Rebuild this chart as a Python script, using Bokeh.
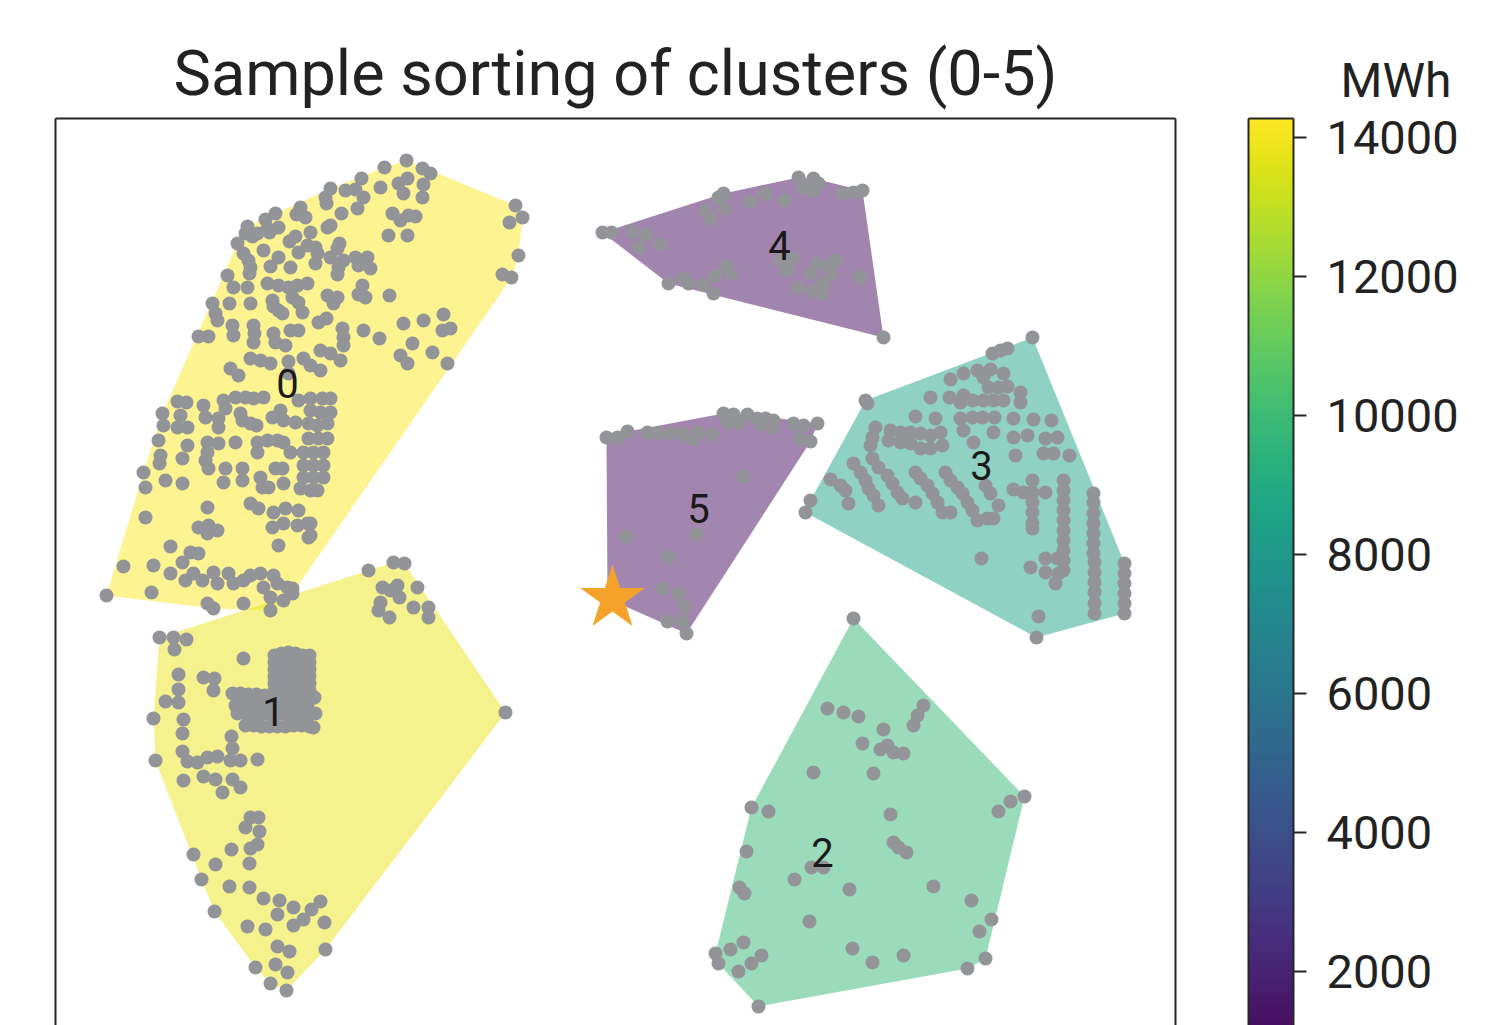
import numpy as np
from bokeh.plotting import figure
from bokeh.layouts import row
from bokeh.models import (Range1d, LinearAxis, LinearColorMapper, FixedTicker,
                          ColumnDataSource)
from bokeh.palettes import Viridis256
from bokeh.transform import linear_cmap
from bokeh.embed import file_html
from bokeh.resources import INLINE
from bokeh.core.properties import value

# ---------------- data (map coordinates, y grows downward) ----------------
cluster_ids = [0, 1, 2, 3, 4, 5]
cluster_mwh = [14270, 13870, 9760, 8560, 1100, 1200]
label_x = [287, 273, 822, 981, 779, 698]
label_y = [383, 711, 852, 465, 245, 508]
cbar_ticks = [2000, 4000, 6000, 8000, 10000, 12000, 14000]
mwh_low, mwh_high = 680, 14270
star_x = [612]
star_y = [598]

c0_pts = [
    (406,160),(384,167),(422,168),(430,173),(361,178),(407,178),(398,183),(423,184),(380,187),
    (330,188),(345,190),(355,189),(403,193),(363,197),(325,197),(326,203),(422,197),(357,208),
    (300,207),(296,214),(305,217),(275,213),(341,213),(392,213),(400,220),(408,215),(415,216),
    (265,219),(267,228),(247,226),(245,233),(278,227),(269,232),(257,233),(252,236),(330,225),
    (327,227),(310,232),(388,235),(407,235),(295,236),(289,241),(237,243),(339,243),(337,248),
    (307,245),(315,247),(317,253),(298,252),(263,250),(243,253),(248,260),(250,267),(249,273),
    (278,257),(270,266),(330,257),(343,260),(355,257),(367,257),(358,265),(370,268),(338,267),
    (337,274),(315,263),(290,267),(227,275),(267,283),(278,285),(288,287),(297,285),(307,283),
    (292,297),(233,287),(247,287),(362,285),(365,297),(358,294),(327,295),(337,297),(333,303),
    (389,295),(272,300),(273,306),(278,310),(282,313),(298,302),(302,312),(212,303),(215,313),
    (217,320),(229,303),(250,303),(232,325),(233,335),(253,325),(254,333),(253,342),(318,322),
    (326,318),(290,330),(298,330),(342,328),(343,337),(343,345),(363,330),(379,338),(403,323),
    (423,320),(443,314),(442,330),(450,328),(198,336),(208,336),(273,333),(275,342),(285,345),
    (412,343),(432,352),(400,355),(407,363),(447,363),(250,358),(260,360),(270,363),(288,361),
    (303,358),(310,365),(320,370),(320,350),(330,353),(340,360),(230,368),(238,375),(288,373),
    (515,205),(522,217),(509,222),(518,255),(502,274),(511,277),
    (177,401),(186,402),(203,405),(205,417),(223,400),(225,408),(235,397),(245,397),(253,398),
    (263,397),(162,413),(163,425),(180,415),(177,427),(187,427),(218,418),(218,427),(240,413),
    (242,420),(250,423),(256,425),(272,417),(280,410),(283,420),(295,422),(298,400),(310,398),
    (322,398),(330,398),(310,410),(320,412),(330,412),(308,423),(317,425),(327,423),(308,438),
    (318,438),(327,438),(158,440),(160,455),(159,463),(187,445),(182,458),(207,442),(218,443),
    (207,452),(205,460),(208,468),(235,442),(257,442),(257,452),(267,440),(277,440),(283,442),
    (290,452),(303,452),(313,452),(323,452),(303,465),(313,465),(323,465),(303,477),(313,477),
    (323,477),(300,488),(310,490),(317,490),(143,472),(145,487),(165,480),(182,483),(225,468),
    (223,482),(242,468),(242,480),(260,477),(262,487),(268,487),(275,468),(282,468),(283,483),
    (207,507),(250,503),(258,508),(273,512),(285,508),(298,510),(272,527),(283,523),(297,525),
    (310,523),(310,535),(307,523),(308,537),(145,517),(198,527),(208,525),(217,530),(207,533),
    (278,545),(170,546),(190,552),(198,553),(182,562),(123,566),(153,565),(170,573),(185,580),
    (193,573),(202,580),(213,572),(217,583),(228,573),(233,583),(243,580),(250,575),(260,573),
    (263,587),(273,575),(277,583),(287,587),(292,593),(270,597),(283,600),(151,592),(207,603),
    (213,608),(243,603),(270,610),(106,595),(292,588),
]

c1_pts = [
    (368,570),(393,562),(404,563),(382,587),(397,585),(390,590),(417,587),(399,597),(380,602),
    (378,610),(413,607),(428,607),(428,617),(389,617),(159,637),(173,637),(186,639),(174,649),
    (243,658),
    (274,655),(281,653),(288,652),(295,653),(302,655),(309,655),
    (274,662),(281,662),(288,662),(295,662),(302,662),(309,662),
    (274,669),(281,669),(288,669),(295,669),(302,669),(309,669),
    (274,676),(281,676),(288,676),(295,676),(302,676),(309,676),
    (274,683),(281,683),(288,683),(295,683),(302,683),(309,683),
    (274,690),(281,690),(288,690),(295,690),(302,690),(309,690),(314,697),
    (232,693),(240,693),(248,694),(256,694),(264,695),(272,696),(280,696),(288,697),(296,697),
    (304,697),(313,697),(235,705),(243,706),(251,706),(259,707),(267,707),(275,707),(283,707),
    (291,707),(299,707),(307,707),(315,713),(237,713),(245,713),(253,714),(261,714),(269,714),
    (277,714),(285,714),(293,714),(301,714),(309,714),(245,725),(253,725),(261,726),(269,726),
    (277,726),(285,726),(293,725),(301,725),(309,726),(313,727),
    (178,674),(203,677),(214,678),(213,690),(178,689),(178,702),(165,701),(153,718),(183,719),
    (182,733),(231,736),(232,748),(230,760),(240,760),(257,759),(155,760),(182,751),(187,761),
    (197,762),(207,757),(217,756),(183,780),(203,776),(215,779),(222,792),(232,779),(240,787),
    (250,817),(258,817),(245,827),(259,831),(250,848),(257,844),(249,863),(231,849),(193,854),
    (215,864),(201,879),(229,886),(249,887),(263,898),(279,900),(293,907),(277,914),(311,909),
    (320,901),(303,919),(293,925),(324,922),(214,911),(247,926),(265,929),(277,946),(289,951),
    (325,949),(255,967),(275,964),(287,972),(270,983),(286,990),(505,712),
]

c2_pts = [
    (853,618),(827,708),(843,712),(858,716),(923,705),(917,715),(913,725),(883,729),(862,743),
    (880,749),(887,745),(893,752),(903,753),(813,772),(873,773),(751,807),(768,811),(890,814),
    (1024,796),(1010,801),(998,811),(746,851),(893,842),(906,852),(898,847),(811,867),(823,867),
    (794,879),(849,889),(933,886),(739,887),(744,893),(971,900),(991,919),(979,931),(809,921),
    (743,942),(730,949),(715,953),(718,963),(761,955),(751,963),(738,971),(852,948),(872,962),
    (903,955),(985,958),(967,968),(758,1006),
]

c3_pts = [
    (1032,337),(992,353),(1000,350),(1007,348),(865,400),(867,403),(950,379),(963,373),(977,370),
    (990,369),(983,377),(1003,373),(988,387),(998,387),(1007,386),(930,397),(949,397),(963,395),
    (960,402),(972,400),(983,400),(993,400),(1003,400),(1020,392),(1020,402),(915,416),(935,418),
    (960,418),(972,417),(982,417),(994,417),(1013,418),(1033,419),(1051,420),(993,432),(963,430),
    (1013,437),(1027,435),(1045,438),(1057,437),(875,427),(872,437),(870,445),(890,430),(900,432),
    (910,432),(920,433),(930,435),(940,432),(888,440),(900,442),(910,443),(920,448),(930,448),
    (942,445),(1015,455),(1043,453),(1053,453),(1069,455),(973,442),
    (872,458),(878,467),(887,475),(892,483),(897,492),(902,498),
    (853,463),(860,472),(865,480),(868,488),(873,495),(878,505),
    (830,479),(840,485),(845,490),(848,503),
    (915,472),(920,478),(927,485),(932,493),(937,502),(942,512),(950,512),
    (945,472),(950,480),(957,487),(962,493),(967,502),(972,510),(977,520),(987,518),(993,518),
    (998,505),(990,493),(985,485),(915,502),(810,500),(805,512),
    (1013,489),(1023,492),(1032,480),(1032,492),(1045,492),(1032,502),(1032,512),(1032,523),
    (1032,528),
    (1063,480),(1063,490),(1063,500),(1063,510),(1063,520),(1063,530),(1063,540),(1063,550),
    (1063,560),(1063,570),(1045,558),(1057,558),(1045,572),(1055,583),(1058,573),(1030,567),
    (981,558),
    (1093,493),(1093,502),(1093,513),(1093,523),(1093,533),(1093,543),(1093,553),
    (1094,562),(1094,572),(1094,582),(1094,592),(1094,603),(1094,613),
    (1124,563),(1124,573),(1124,583),(1124,593),(1124,603),(1124,613),
    (1038,616),(1036,637),
]

c4_pts = [
    (602,232),(611,232),(632,231),(645,234),(638,247),(660,244),(668,283),(683,278),(688,283),
    (703,284),(713,293),(715,275),(726,266),(731,273),(705,210),(710,218),(718,197),(723,193),
    (724,208),(750,201),(765,193),(784,200),(798,177),(803,188),(813,178),(818,183),(813,190),
    (842,193),(853,192),(862,190),(780,260),(792,258),(787,270),(798,287),(810,273),(817,263),
    (827,267),(835,260),(830,273),(823,283),(813,290),(822,293),(860,277),(883,337),
]

c5_pts = [
    (606,437),(617,437),(627,431),(647,432),(658,433),(670,433),(683,433),(692,439),(698,432),
    (712,434),(723,413),(733,414),(727,422),(738,423),(747,414),(757,418),(765,418),(773,420),
    (772,428),(760,423),(793,423),(803,425),(817,423),(800,438),(810,441),(743,476),(626,536),
    (696,534),(668,557),(662,588),(678,593),(684,606),(667,621),(682,621),(686,633),(607,598),
]

cluster_pts = [c0_pts, c1_pts, c2_pts, c3_pts, c4_pts, c5_pts]

# ---------------- helpers ----------------
def convex_hull(points):
    pts = sorted(set(points))
    def cross(o, a, b):
        return (a[0]-o[0])*(b[1]-o[1]) - (a[1]-o[1])*(b[0]-o[0])
    lower, upper = [], []
    for p_ in pts:
        while len(lower) >= 2 and cross(lower[-2], lower[-1], p_) <= 0:
            lower.pop()
        lower.append(p_)
    for p_ in reversed(pts):
        while len(upper) >= 2 and cross(upper[-2], upper[-1], p_) <= 0:
            upper.pop()
        upper.append(p_)
    return lower[:-1] + upper[:-1]

FONT = "Roboto"
TXT = "#222222"
EDGE = "#262626"

mapper = LinearColorMapper(palette=Viridis256, low=mwh_low, high=mwh_high)

hulls = [convex_hull(pts) for pts in cluster_pts]
hull_src = ColumnDataSource(dict(
    xs=[[h[0] for h in hull] for hull in hulls],
    ys=[[h[1] for h in hull] for hull in hulls],
    mwh=cluster_mwh,
))

all_x = [pt[0] for pts in cluster_pts for pt in pts]
all_y = [pt[1] for pts in cluster_pts for pt in pts]

def edge_axis():
    return LinearAxis(ticker=FixedTicker(ticks=[]), axis_line_width=2, axis_line_color=EDGE,
                      major_label_text_font_size="0px", major_tick_line_color=None,
                      minor_tick_line_color=None)

# ---------------- main map ----------------
p = figure(width=1208, height=1025, x_range=Range1d(55, 1175), y_range=Range1d(1025, 118),
           output_backend="svg", toolbar_location=None,
           x_axis_location=None, y_axis_location=None,
           min_border_left=55, min_border_right=33, min_border_top=118, min_border_bottom=0)
p.grid.visible = False
p.outline_line_color = None
p.background_fill_color = "white"
p.border_fill_color = "white"

p.title.text = "Sample sorting of clusters (0-5)"
p.title.text_font = FONT
p.title.text_font_size = "63px"
p.title.text_font_style = "normal"
p.title.text_color = TXT
p.title.align = "center"
p.title.standoff = 18

for side in ("left", "right", "above"):
    p.add_layout(edge_axis(), side)

p.patches("xs", "ys", source=hull_src,
          fill_color=linear_cmap("mwh", Viridis256, mwh_low, mwh_high),
          fill_alpha=0.5, line_color=None)

p.scatter(all_x, all_y, size=14, fill_color="#929497", line_color=None)

p.text(x=label_x, y=label_y, text=[str(c) for c in cluster_ids],
       text_font=value(FONT), text_font_size="40px", text_color="#1a1a1a",
       text_align="center", text_baseline="middle")

p.scatter(star_x, star_y, marker="star", size=68, fill_color="#F5A22B", line_color=None)

# ---------------- colour bar ----------------
cb_top = mwh_high
cb_bottom = mwh_high - 13050
cb = figure(width=265, height=1025, x_range=Range1d(0, 1), y_range=Range1d(cb_bottom, cb_top),
            output_backend="svg", toolbar_location=None,
            x_axis_location=None, y_axis_location=None,
            min_border_left=40, min_border_right=180, min_border_top=118, min_border_bottom=0)
cb.grid.visible = False
cb.outline_line_color = None
cb.border_fill_color = "white"

grad = np.linspace(cb_bottom, cb_top, 600).reshape(-1, 1)
cb.image(image=[grad], x=0, y=cb_bottom, dw=1, dh=cb_top - cb_bottom, color_mapper=mapper)

for side in ("left", "above"):
    cb.add_layout(edge_axis(), side)

rax = LinearAxis(ticker=FixedTicker(ticks=cbar_ticks), axis_line_width=2, axis_line_color=EDGE,
                 major_tick_line_color=EDGE, major_tick_line_width=2,
                 major_tick_out=13, major_tick_in=0, minor_tick_line_color=None,
                 major_label_text_font=FONT, major_label_text_font_size="47px",
                 major_label_text_color=TXT, major_label_standoff=20)
cb.add_layout(rax, "right")

cb.title.text = "MWh"
cb.title.text_font = FONT
cb.title.text_font_size = "48px"
cb.title.text_font_style = "normal"
cb.title.text_color = TXT
cb.title.align = "left"
cb.title.offset = 92
cb.title.standoff = 20

layout = row(p, cb)
open("out.html", "w").write(file_html(layout, INLINE))
